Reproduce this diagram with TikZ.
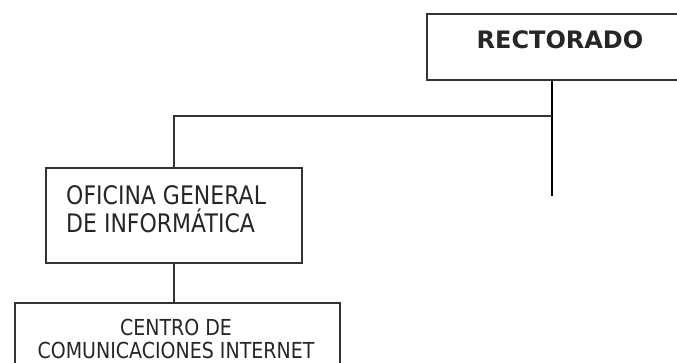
\documentclass[tikz,border=0pt]{standalone}
\usepackage{fontspec}
\setmainfont{DejaVu Sans}
\definecolor{boxgray}{HTML}{333333}
\newcommand{\tallcaps}[1]{\scalebox{1}[1.16]{#1}}
\begin{document}
\begin{tikzpicture}[x=1pt,y=-1pt,
  box/.style={draw=boxgray, line width=1.9pt, rectangle, inner sep=0pt},
  conn/.style={draw=boxgray, line width=1.8pt},
  trunk/.style={draw=black, line width=2.8pt},
  lbl/.style={inner sep=0pt, text=black!85}]
% page frame; the right and bottom boxes run past it
\clip (0,0) rectangle (677,363);

% boxes
\node[box, minimum width=280pt, minimum height=66pt] (rect) at (567,47) {};
\node[box, minimum width=256pt, minimum height=95pt] (ogi) at (174,215.5) {};
\node[box, minimum width=325pt, minimum height=90pt] (cci) at (177.5,348) {};

% labels
\node[lbl, anchor=base, font=\fontsize{24}{28}\selectfont\bfseries] (rectT) at (560,49) {RECTORADO};
\node[lbl, anchor=base west, font=\fontsize{22}{26}\selectfont] (ogiA) at (66,205) {\tallcaps{OFICINA GENERAL}};
\node[lbl, anchor=base west, font=\fontsize{22}{26}\selectfont] (ogiB) at (66,233) {\tallcaps{DE INFORMÁTICA}};
\node[lbl, anchor=base, font=\fontsize{19}{23}\selectfont] (cciA) at (176,335) {\tallcaps{CENTRO DE}};
\node[lbl, anchor=base, font=\fontsize{19}{23}\selectfont] (cciB) at (176,358) {\tallcaps{COMUNICACIONES INTERNET}};

% connectors
\coordinate (j) at (552,116);
\coordinate (tail) at (552,196);
\draw[trunk] (rect.south -| j) -- (tail);
\draw[conn] (j) -- (j -| ogi.north) -- (ogi.north);
\draw[conn] (ogi.south) -- (ogi.south |- cci.north);
\end{tikzpicture}
\end{document}
